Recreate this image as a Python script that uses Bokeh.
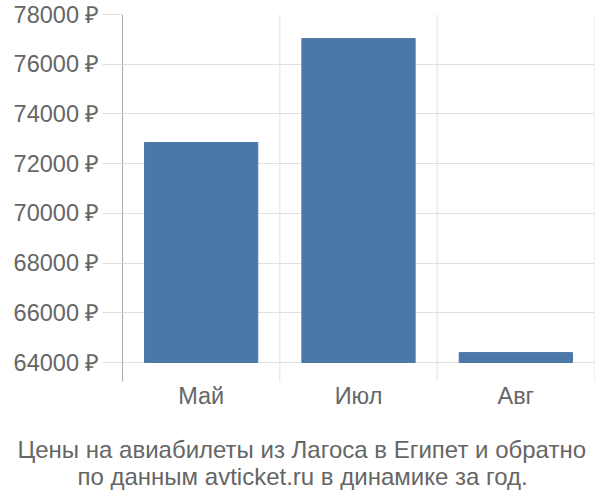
from bokeh.plotting import figure
from bokeh.models import FactorRange, Range1d, Span, Title, FixedTicker
from bokeh.embed import file_html
from bokeh.resources import INLINE

months = ["Май", "Июл", "Авг"]
prices = [72850, 77030, 64400]
base_price = 64000
y_ticks = [64000, 66000, 68000, 70000, 72000, 74000, 76000, 78000]
title_lines = ["Цены на авиабилеты из Лагоса в Египет и обратно",
               "по данным avticket.ru в динамике за год."]

FONT = "Liberation Sans"
TEXT = "#666666"
GRID = "#e0e0e0"

p = figure(width=600, height=500, output_backend="svg", toolbar_location=None,
           x_range=FactorRange(*months, range_padding=0, factor_padding=0),
           y_range=Range1d(63236, 78000),
           min_border_left=122, min_border_right=6, min_border_top=14, min_border_bottom=119)
p.outline_line_color = None
p.background_fill_color = "white"

p.vbar(x=months, top=prices, bottom=base_price, width=0.72, color="#4c78a8")

# category separators
for i in range(1, len(months) + 1):
    p.add_layout(Span(location=i, dimension="height", line_color=GRID, line_width=1))

p.xgrid.grid_line_color = None
p.ygrid.grid_line_color = GRID
p.ygrid.ticker = FixedTicker(ticks=y_ticks)

p.yaxis.ticker = FixedTicker(ticks=y_ticks)
p.yaxis.major_label_overrides = {t: f"{t} ₽" for t in y_ticks}
p.yaxis.axis_line_color = "#aaaaaa"
p.yaxis.major_tick_out = 20
p.yaxis.major_tick_in = 0
p.yaxis.major_tick_line_color = GRID
p.yaxis.minor_tick_line_color = None
p.yaxis.major_label_standoff = 3
p.yaxis.major_label_text_font = FONT
p.yaxis.major_label_text_font_size = "23.5px"
p.yaxis.major_label_text_color = TEXT

p.xaxis.axis_line_color = None
p.xaxis.major_tick_line_color = None
p.xaxis.major_label_standoff = -5
p.xaxis.major_label_text_font = FONT
p.xaxis.major_label_text_font_size = "23.5px"
p.xaxis.major_label_text_color = TEXT
# invisible spacer below the month labels
p.xaxis.axis_label = " "
p.xaxis.axis_label_text_font_size = "10px"
p.xaxis.axis_label_standoff = 8

for line, off, va in zip(title_lines, [-105, -45], ["bottom", "top"]):
    p.add_layout(Title(text=line, align="left", offset=off, standoff=0, vertical_align=va,
                       text_font=FONT, text_font_size="24px", text_font_style="normal",
                       text_color=TEXT), "below")

open("out.html", "w").write(file_html(p, INLINE))
